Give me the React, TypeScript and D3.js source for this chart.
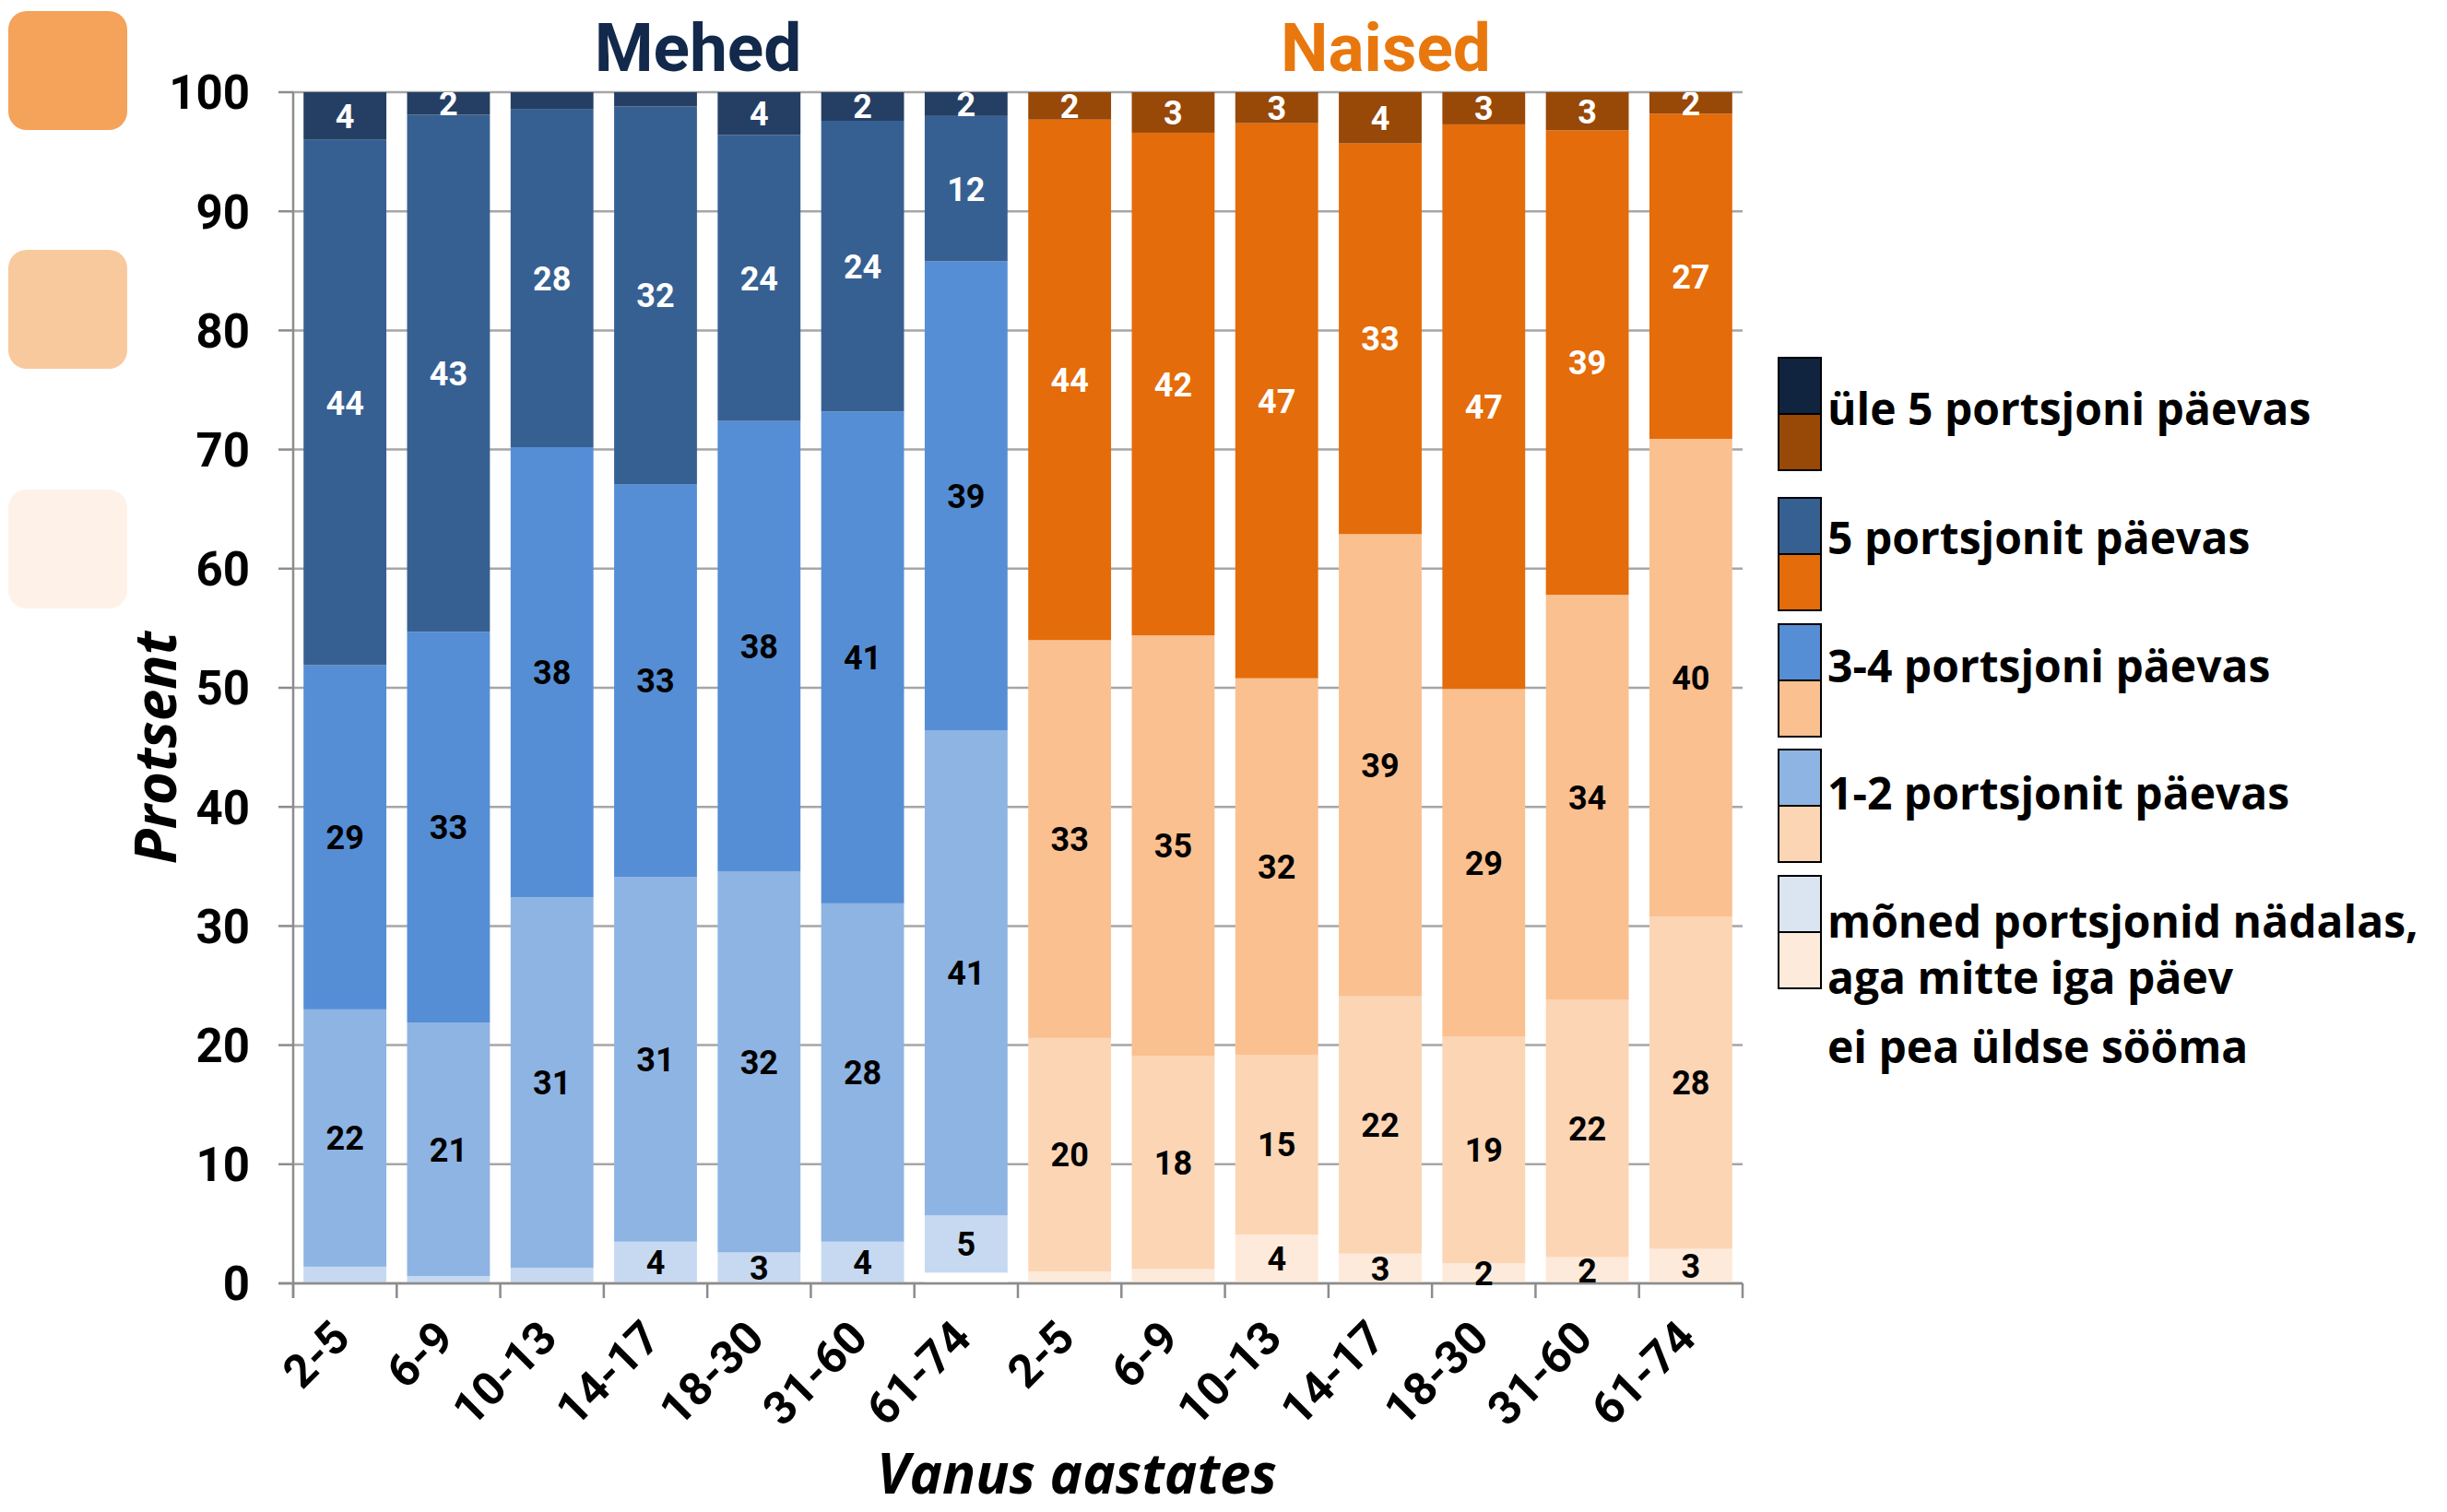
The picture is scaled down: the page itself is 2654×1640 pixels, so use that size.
import React from "react";
import * as d3 from "d3";

// ---------- data ----------
const ageGroups = ["2-5", "6-9", "10-13", "14-17", "18-30", "31-60", "61-74"];
const sexes = ["Mehed", "Naised"];
const seriesNames = [
  "ei pea üldse sööma",
  "mõned portsjonid nädalas, aga mitte iga päev",
  "1-2 portsjonit päevas",
  "3-4 portsjoni päevas",
  "5 portsjonit päevas",
  "üle 5 portsjoni päevas",
];

// Mehed (bottom to top)
const menNone = [0, 0, 0, 0, 0, 0, 0.9];
const menSome = [1.4, 0.6, 1.3, 3.5, 2.6, 3.5, 4.8];
const men12 = [21.6, 21.3, 31.1, 30.6, 32.0, 28.4, 40.7];
const men34 = [28.9, 32.8, 37.8, 33.0, 37.8, 41.3, 39.4];
const men5 = [44.1, 43.4, 28.4, 31.7, 24.0, 24.4, 12.2];
const menOver5 = [4.0, 1.9, 1.4, 1.2, 3.6, 2.4, 2.0];

// Naised (bottom to top)
const womenNone = [0, 0, 0, 0, 0, 0, 0];
const womenSome = [1.0, 1.2, 4.1, 2.5, 1.7, 2.2, 2.9];
const women12 = [19.6, 17.9, 15.1, 21.6, 19.0, 21.6, 27.9];
const women34 = [33.4, 35.3, 31.6, 38.8, 29.2, 34.0, 40.1];
const women5 = [43.7, 42.2, 46.6, 32.8, 47.4, 39.0, 27.3];
const womenOver5 = [2.3, 3.4, 2.6, 4.3, 2.7, 3.2, 1.8];

const yTicks = [0, 10, 20, 30, 40, 50, 60, 70, 80, 90, 100];

const menColors = ["#ffffff", "#c6d9f1", "#8eb4e3", "#558ed5", "#376092", "#253f64"];
const womenColors = ["#ffffff", "#fdeada", "#fcd5b5", "#fac090", "#e46c0a", "#984807"];
const labelColors = ["#000000", "#000000", "#000000", "#000000", "#ffffff", "#ffffff"];
const legendMenColors = ["#10243f", "#376092", "#558ed5", "#8eb4e3", "#dbe5f1"];
const legendWomenColors = ["#984807", "#e46c0a", "#fac090", "#fcd5b5", "#fdeada"];
const legendLabels = [
  ["üle 5 portsjoni päevas"],
  ["5 portsjonit päevas"],
  ["3-4 portsjoni päevas"],
  ["1-2 portsjonit päevas"],
  ["mõned portsjonid nädalas,", "aga mitte iga päev"],
];

// ---------- layout ----------
const W = 2654;
const H = 1640;
const left = 318;
const right = 1890;
const top = 100;
const bottom = 1392;

const FONT_CHART = "Roboto, 'Open Sans', sans-serif";
const FONT_LEG = "'Open Sans', 'DejaVu Sans', sans-serif";

export default function App() {
  const menSeries = [menNone, menSome, men12, men34, men5, menOver5];
  const womenSeries = [womenNone, womenSome, women12, women34, women5, womenOver5];

  const keys: string[] = [];
  sexes.forEach((s) => ageGroups.forEach((a) => keys.push(s + "|" + a)));

  const x = d3.scaleBand<string>().domain(keys).range([left, right]).paddingInner(0.2).paddingOuter(0.1);
  const y = d3.scaleLinear().domain([0, 100]).range([bottom, top]);
  const step = x.step();

  const segs: any[] = [];
  sexes.forEach((s, si) => {
    const series = si === 0 ? menSeries : womenSeries;
    const colors = si === 0 ? menColors : womenColors;
    ageGroups.forEach((a, ai) => {
      let cum = 0;
      series.forEach((vals, k) => {
        const v = vals[ai];
        const y0 = cum;
        const y1 = cum + v;
        cum = y1;
        segs.push({ key: s + "|" + a, k, v, y0, y1, color: colors[k] });
      });
    });
  });

  const boundaries = d3.range(keys.length + 1).map((i) => left + i * step);

  const legendBoxTops = [388, 540, 677, 813, 950];
  const legendBaselines = [[461], [601], [740], [878], [1017, 1078]];
  const boxH = 61;

  return (
    <svg
      width={W}
      height={H}
      viewBox={`0 0 ${W} ${H}`}
      style={{ position: "absolute", left: 0, top: 0, background: "#ffffff" }}
    >
      <defs>
        <clipPath id="plotClip">
          <rect x={left} y={top} width={right - left} height={bottom - top + 40} />
        </clipPath>
      </defs>
      <rect x={0} y={0} width={W} height={H} fill="#ffffff" />

      {/* decorative squares */}
      <rect x={9} y={12} width={129} height={129} rx={20} fill="#f5a25a" />
      <rect x={9} y={271} width={129} height={129} rx={20} fill="#f9c99e" />
      <rect x={9} y={531} width={129} height={129} rx={20} fill="#fef2e8" />

      {/* gridlines */}
      {yTicks.map((t) => (
        <line key={"g" + t} x1={left} x2={right} y1={y(t)} y2={y(t)} stroke="#a6a6a6" strokeWidth={2.5} />
      ))}

      {/* bars */}
      {segs.map((d, i) =>
        d.v > 0 ? (
          <rect
            key={"b" + i}
            x={x(d.key)}
            y={y(d.y1)}
            width={x.bandwidth()}
            height={y(d.y0) - y(d.y1)}
            fill={d.color}
          />
        ) : null
      )}

      {/* axes */}
      <line x1={left} x2={left} y1={top} y2={bottom + 16} stroke="#8c8c8c" strokeWidth={2.5} />
      <line x1={left - 16} x2={right} y1={bottom} y2={bottom} stroke="#8c8c8c" strokeWidth={2.5} />
      {yTicks.map((t) => (
        <line key={"yt" + t} x1={left - 16} x2={left} y1={y(t)} y2={y(t)} stroke="#8c8c8c" strokeWidth={2.5} />
      ))}
      {boundaries.map((bx, i) => (
        <line key={"xt" + i} x1={bx} x2={bx} y1={bottom} y2={bottom + 16} stroke="#8c8c8c" strokeWidth={2.5} />
      ))}

      {/* data labels */}
      <g clipPath="url(#plotClip)">
        {segs.map((d, i) =>
          d.k > 0 && d.v >= 1.5 ? (
            <text
              key={"l" + i}
              x={(x(d.key) as number) + x.bandwidth() / 2}
              y={y((d.y0 + d.y1) / 2)}
              dy="0.36em"
              textAnchor="middle"
              fontFamily={FONT_CHART}
              fontWeight={700}
              fontSize={36}
              fill={labelColors[d.k]}
            >
              {Math.round(d.v)}
            </text>
          ) : null
        )}
      </g>

      {/* y tick labels */}
      {yTicks.map((t) => (
        <text
          key={"yl" + t}
          x={271}
          y={y(t)}
          dy="0.36em"
          textAnchor="end"
          fontFamily={FONT_CHART}
          fontWeight={700}
          fontSize={51}
          fill="#000"
        >
          {t}
        </text>
      ))}

      {/* x tick labels */}
      {keys.map((k) => {
        const cx = (x(k) as number) + x.bandwidth() / 2;
        return (
          <text
            key={"xl" + k}
            transform={`translate(${cx + 8},${bottom + 62}) rotate(-45)`}
            textAnchor="end"
            fontFamily={FONT_CHART}
            fontWeight={700}
            fontSize={50}
            fill="#000"
          >
            {k.split("|")[1]}
          </text>
        );
      })}

      {/* group titles */}
      <text x={757} y={77} textAnchor="middle" fontFamily={FONT_CHART} fontWeight={700} fontSize={73} fill="#13294b">
        {sexes[0]}
      </text>
      <text x={1503} y={77} textAnchor="middle" fontFamily={FONT_CHART} fontWeight={700} fontSize={73} fill="#e8780e">
        {sexes[1]}
      </text>

      {/* axis titles */}
      <text
        transform="translate(191,811) rotate(-90)"
        textAnchor="middle"
        fontFamily={FONT_LEG}
        fontWeight={700}
        fontStyle="italic"
        fontSize={62}
        fill="#000"
      >
        Protsent
      </text>
      <text
        x={1168}
        y={1620}
        textAnchor="middle"
        fontFamily={FONT_LEG}
        fontWeight={700}
        fontStyle="italic"
        fontSize={60}
        fill="#000"
      >
        Vanus aastates
      </text>

      {/* legend */}
      {legendLabels.map((lines, i) => (
        <g key={"lg" + i}>
          <rect x={1929} y={legendBoxTops[i]} width={46} height={boxH} fill={legendMenColors[i]} stroke="#000" strokeWidth={2} />
          <rect x={1929} y={legendBoxTops[i] + boxH} width={46} height={boxH} fill={legendWomenColors[i]} stroke="#000" strokeWidth={2} />
          {lines.map((ln, j) => (
            <text
              key={j}
              x={1982}
              y={legendBaselines[i][j]}
              fontFamily={FONT_LEG}
              fontWeight={700}
              fontSize={48}
              fill="#000"
            >
              {ln}
            </text>
          ))}
        </g>
      ))}
      <text x={1982} y={1153} fontFamily={FONT_LEG} fontWeight={700} fontSize={48} fill="#000">
        {seriesNames[0]}
      </text>
    </svg>
  );
}
